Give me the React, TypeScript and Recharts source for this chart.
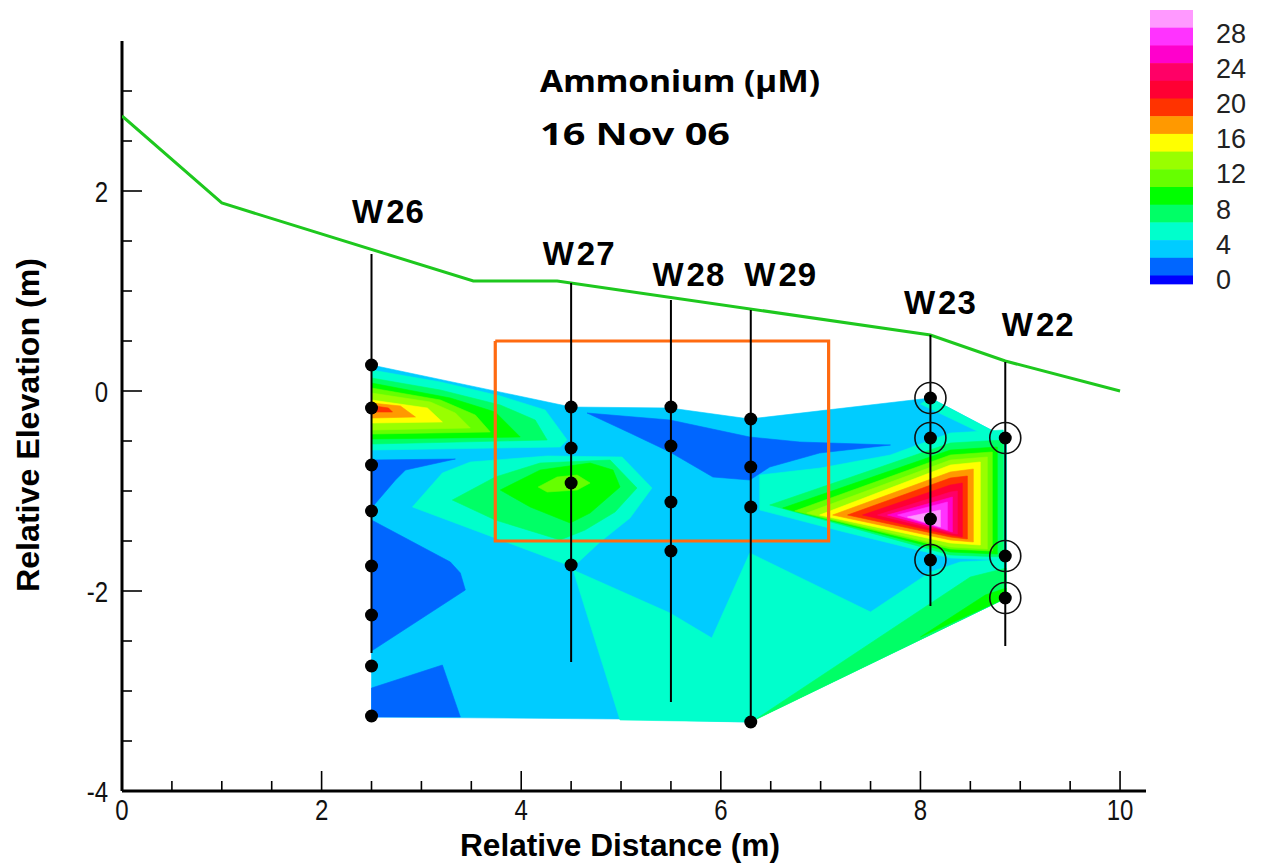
import React from 'react';
import { ScatterChart, Scatter, XAxis, YAxis } from 'recharts';

type Pt = { x: number; y: number };
const toPts = (a: number[][]): Pt[] => a.map(([x, y]) => ({ x, y }));

// ---------- axis ticks ----------
const xTicks = [0, 0.5, 1, 1.5, 2, 2.5, 3, 3.5, 4, 4.5, 5, 5.5, 6, 6.5, 7, 7.5, 8, 8.5, 9, 9.5, 10];
const yTicks = [-4, -3.5, -3, -2.5, -2, -1.5, -1, -0.5, 0, 0.5, 1, 1.5, 2, 2.5, 3];

// ---------- colour scale (legend) ----------
const legendColors = ['#FF99FF', '#FF33FF', '#FF00CC', '#FF0066', '#FF0033', '#FF3300', '#FF9900', '#FFFF00', '#99FF00', '#66FF00', '#00FF00', '#00FF66', '#00FFCC', '#00CCFF', '#0066FF', '#0000FF'];
const legendLabels = ['28', '24', '20', '16', '12', '8', '4', '0'];

// ---------- ground surface ----------
const surfaceX = [0, 1.0, 3.52, 4.36, 8.1, 8.85, 10];
const surfaceY = [2.75, 1.88, 1.1, 1.1, 0.56, 0.3, 0.0];

// ---------- wells ----------
const wellNames = ['W26', 'W27', 'W28', 'W29', 'W23', 'W22'];
const wellX = [2.5, 4.5, 5.5, 6.3, 8.1, 8.85];
const wellTop = [1.37, 1.08, 0.91, 0.81, 0.56, 0.29];
const wellBottom = [-2.62, -2.71, -3.11, -3.29, -2.15, -2.55];
const wellLabelX = [2.67, 4.58, 5.68, 6.6, 8.2, 9.18];
const wellLabelY = [1.8, 1.38, 1.17, 1.17, 0.89, 0.67];
const sampleDepths = [
  [0.26, -0.17, -0.74, -1.2, -1.75, -2.24, -2.75, -3.25],
  [-0.16, -0.57, -0.92, -1.74],
  [-0.16, -0.55, -1.11, -1.6],
  [-0.28, -0.76, -1.16, -3.31],
  [-0.07, -0.47, -1.28, -1.69],
  [-0.47, -1.65, -2.07],
];
const circledX = [8.1, 8.1, 8.1, 8.85, 8.85, 8.85];
const circledY = [-0.07, -0.47, -1.69, -0.47, -1.65, -2.07];

// ---------- study box ----------
const boxX = [3.74, 7.08, 7.08, 3.74, 3.74];
const boxY = [0.5, 0.5, -1.5, -1.5, 0.5];

// ---------- contour polygons (x, y) ----------
const outline = [[2.5, 0.26], [4.5, -0.16], [5.49, -0.17], [6.29, -0.28], [8.1, -0.07], [8.86, -0.47], [8.86, -2.07], [6.29, -3.31], [4.99, -3.28], [2.5, -3.26]];
const blueA = [[2.5, -0.69], [3.34, -0.68], [2.84, -0.79], [2.74, -0.89], [2.5, -1.17]];
const blueB = [[2.5, -1.29], [3.29, -1.71], [3.39, -1.82], [3.44, -1.99], [2.5, -2.6]];
const blueC = [[2.5, -2.97], [3.21, -2.74], [3.39, -3.26], [2.5, -3.26]];
const blueD = [[4.66, -0.22], [5.49, -0.29], [6.29, -0.46], [6.79, -0.51], [7.7, -0.54], [6.99, -0.62], [6.49, -0.76], [6.29, -0.89], [5.92, -0.86], [5.49, -0.61], [5.09, -0.42]];

const aquaLow = [[4.52, -1.79], [4.99, -3.29], [6.29, -3.31], [8.86, -2.07], [8.86, -0.47], [8.1, -0.07], [8.0, -0.13], [8.65, -0.44], [8.8, -0.79], [8.8, -1.69], [8.4, -1.71], [8.1, -1.81], [7.5, -2.21], [6.29, -1.62], [5.91, -2.47], [5.49, -2.22]];
const aquaMid = [[2.91, -1.16], [3.21, -0.82], [3.49, -0.71], [4.26, -0.65], [5.01, -0.66], [5.31, -0.97], [5.09, -1.27], [4.79, -1.51], [4.52, -1.76]];
const aquaLeft = [[2.5, 0.21], [3.19, 0.09], [3.79, -0.05], [4.24, -0.19], [4.46, -0.49], [4.39, -0.56], [2.5, -0.59]];
const aquaRight = [[6.39, -0.84], [7.0, -0.77], [7.7, -0.64], [8.3, -0.42], [8.83, -0.39], [8.83, -1.69], [8.3, -1.67], [7.2, -1.4], [6.39, -1.19]];

const springLeft = [[2.5, 0.13], [3.19, 0.01], [3.79, -0.14], [4.14, -0.29], [4.26, -0.49], [2.5, -0.53]];
const springMid = [[3.31, -1.09], [3.74, -0.86], [4.19, -0.72], [4.89, -0.69], [5.16, -0.97], [4.94, -1.21], [4.64, -1.39], [4.39, -1.49], [3.74, -1.29]];
const springRight = [[6.49, -1.14], [8.3, -0.52], [8.83, -0.49], [8.83, -1.66], [8.3, -1.64]];
const springLow = [[6.34, -3.29], [8.86, -2.07], [8.86, -1.77], [8.5, -1.86], [6.52, -3.17]];

const greenLeft = [[2.5, 0.08], [3.29, -0.07], [3.74, -0.21], [3.99, -0.46], [2.5, -0.48]];
const greenMid = [[3.79, -0.99], [4.19, -0.79], [4.69, -0.72], [4.92, -0.79], [4.99, -0.96], [4.69, -1.22], [4.49, -1.32], [4.09, -1.16]];
const greenRight = [[6.62, -1.17], [8.3, -0.59], [8.77, -0.56], [8.77, -1.63], [8.3, -1.61]];
const greenLow = [[8.0, -2.46], [8.65, -2.04], [8.86, -1.97], [8.86, -2.07]];

const limeLeft = [[2.5, 0.03], [3.19, -0.09], [3.54, -0.24], [3.69, -0.41], [2.5, -0.43]];
const limeMid = [[4.17, -0.96], [4.36, -0.86], [4.56, -0.84], [4.69, -0.92], [4.56, -0.99], [4.26, -1.01]];
const limeRight = [[6.74, -1.2], [8.3, -0.64], [8.72, -0.61], [8.72, -1.6], [8.3, -1.58]];

const chartLeft = [[2.5, -0.02], [3.09, -0.11], [3.34, -0.22], [3.49, -0.37], [2.5, -0.39]];
const chartRight = [[6.86, -1.22], [8.3, -0.69], [8.67, -0.66], [8.67, -1.58], [8.3, -1.56]];

const yellowLeft = [[2.5, -0.09], [3.06, -0.17], [3.21, -0.31], [2.5, -0.32]];
const yellowRight = [[6.99, -1.24], [8.3, -0.74], [8.6, -0.71], [8.6, -1.54], [8.3, -1.52]];

const orangeLeft = [[2.5, -0.12], [2.79, -0.15], [2.94, -0.26], [2.5, -0.27]];
const orangeRight = [[7.12, -1.24], [8.3, -0.81], [8.53, -0.78], [8.53, -1.51], [8.3, -1.49]];

const vermLeft = [[2.53, -0.15], [2.67, -0.17], [2.71, -0.21], [2.53, -0.21]];
const vermRight = [[7.27, -1.24], [8.3, -0.87], [8.47, -0.85], [8.47, -1.48], [8.3, -1.46]];

const redRight = [[7.42, -1.24], [8.3, -0.94], [8.42, -0.92], [8.42, -1.46], [8.3, -1.44]];
const crimsonRight = [[7.57, -1.24], [8.3, -1.01], [8.37, -1.0], [8.37, -1.43], [8.3, -1.42]];
const pinkRight = [[7.67, -1.24], [8.32, -1.06], [8.32, -1.41]];
const magentaRight = [[7.77, -1.24], [8.27, -1.11], [8.27, -1.39]];
const lightPinkRight = [[7.87, -1.26], [8.2, -1.19], [8.2, -1.36]];

const fills: [number[][], string][] = [
  [outline, '#00CCFF'],
  [blueA, '#0066FF'], [blueB, '#0066FF'], [blueC, '#0066FF'], [blueD, '#0066FF'],
  [aquaLow, '#00FFCC'], [aquaMid, '#00FFCC'], [aquaLeft, '#00FFCC'], [aquaRight, '#00FFCC'],
  [springLeft, '#00FF66'], [springMid, '#00FF66'], [springRight, '#00FF66'], [springLow, '#00FF66'],
  [greenLeft, '#00FF00'], [greenMid, '#00FF00'], [greenRight, '#00FF00'], [greenLow, '#00FF00'],
  [limeLeft, '#66FF00'], [limeMid, '#66FF00'], [limeRight, '#66FF00'],
  [chartLeft, '#99FF00'], [chartRight, '#99FF00'],
  [yellowLeft, '#FFFF00'], [yellowRight, '#FFFF00'],
  [orangeLeft, '#FF9900'], [orangeRight, '#FF9900'],
  [vermLeft, '#FF3300'], [vermRight, '#FF3300'],
  [redRight, '#FF0033'], [crimsonRight, '#FF0066'], [pinkRight, '#FF00CC'], [magentaRight, '#FF33FF'], [lightPinkRight, '#FF99FF'],
];

const FONT = '"Liberation Sans", Arial, sans-serif';
const hide = () => <g />;

const polyLine = (color: string) => (props: any) => (
  <polygon
    points={(props.points || []).map((p: any) => `${p.x},${p.y}`).join(' ')}
    fill={color}
    stroke={color}
    strokeWidth={0.6}
    strokeLinejoin="round"
  />
);

const XTick = (props: any) => {
  const { x, y, payload } = props;
  const v = payload.value as number;
  const major = Math.abs(v % 2) < 1e-9;
  return (
    <g>
      <line x1={x} x2={x} y1={y} y2={y - (major ? 20 : 10)} stroke="#000" strokeWidth={1.6} />
      {major && (
        <text transform={`translate(${x},${y + 29}) scale(0.8,1)`} textAnchor="middle" fontSize={30} fontFamily={FONT} fill="#111">
          {String(v)}
        </text>
      )}
    </g>
  );
};

const YTick = (props: any) => {
  const { x, y, payload } = props;
  const v = payload.value as number;
  const major = Math.abs(v % 2) < 1e-9;
  return (
    <g>
      <line x1={x} x2={x + (major ? 20 : 10)} y1={y} y2={y} stroke="#000" strokeWidth={1.6} />
      {major && (
        <text transform={`translate(${x - 14},${y + 11}) scale(0.8,1)`} textAnchor="end" fontSize={30} fontFamily={FONT} fill="#111">
          {String(v)}
        </text>
      )}
    </g>
  );
};

const dotShape = (props: any) => <circle cx={props.cx} cy={props.cy} r={6.5} fill="#000" />;
const ringShape = (props: any) => (
  <g>
    <circle cx={props.cx} cy={props.cy} r={15.5} fill="none" stroke="#111" strokeWidth={1.6} />
  </g>
);
const labelShape = (props: any) => (
  <text
    x={props.cx}
    y={props.cy + 12}
    textAnchor="middle"
    fontSize={33}
    fontWeight="bold"
    fontFamily={FONT}
    letterSpacing={1}
    fill="#000"
  >
    <tspan>{String(props.payload.label).slice(0, 1)}</tspan>
    <tspan dx={2}>{String(props.payload.label).slice(1)}</tspan>
  </text>
);

export default function App() {
  const surface = surfaceX.map((x, i) => ({ x, y: surfaceY[i] }));
  const box = boxX.map((x, i) => ({ x, y: boxY[i] }));
  const dots: Pt[] = [];
  sampleDepths.forEach((arr, i) => arr.forEach((y) => dots.push({ x: wellX[i], y })));
  const rings = circledX.map((x, i) => ({ x, y: circledY[i] }));
  const labels = wellNames.map((label, i) => ({ x: wellLabelX[i], y: wellLabelY[i], label }));

  const legendTop = 10;
  const band = 17.7;

  return (
    <div style={{ position: 'absolute', left: 0, top: 0, width: 1266, height: 865, background: '#fff' }}>
      <ScatterChart width={1266} height={865} margin={{ top: 41, right: 120, bottom: 44, left: 62 }}>
        <XAxis
          type="number"
          dataKey="x"
          domain={[0, 10.26]}
          ticks={xTicks}
          interval={0}
          allowDataOverflow
          tickSize={0}
          tickMargin={0}
          tickLine={false}
          tick={<XTick />}
          axisLine={{ stroke: '#000', strokeWidth: 3 }}
          height={30}
        />
        <YAxis
          type="number"
          dataKey="y"
          domain={[-4, 3.5]}
          ticks={yTicks}
          interval={0}
          allowDataOverflow
          tickSize={0}
          tickMargin={0}
          tickLine={false}
          tick={<YTick />}
          axisLine={{ stroke: '#000', strokeWidth: 3 }}
          width={60}
        />
        {fills.map(([poly, color], i) => (
          <Scatter
            key={`poly-${i}`}
            data={toPts(poly)}
            shape={hide}
            line={polyLine(color)}
            lineType="joint"
            isAnimationActive={false}
          />
        ))}
        <Scatter
          data={box}
          shape={hide}
          line={{ stroke: '#FF6A10', strokeWidth: 3.2 }}
          lineType="joint"
          isAnimationActive={false}
        />
        <Scatter
          data={surface}
          shape={hide}
          line={{ stroke: '#1EC81E', strokeWidth: 3 }}
          lineType="joint"
          isAnimationActive={false}
        />
        {wellX.map((x, i) => (
          <Scatter
            key={`well-${i}`}
            data={[{ x, y: wellTop[i] }, { x, y: wellBottom[i] }]}
            shape={hide}
            line={{ stroke: '#000', strokeWidth: 2 }}
            lineType="joint"
            isAnimationActive={false}
          />
        ))}
        <Scatter data={rings} shape={ringShape} isAnimationActive={false} />
        <Scatter data={dots} shape={dotShape} isAnimationActive={false} />
        <Scatter data={labels} shape={labelShape} isAnimationActive={false} />
      </ScatterChart>

      <svg width={1266} height={865} style={{ position: 'absolute', left: 0, top: 0, pointerEvents: 'none' }}>
        <text x={540} y={92} fontSize={30} fontWeight="bold" fontFamily='"Comic Sans MS", "Noto Sans", sans-serif' textLength={280} lengthAdjust="spacingAndGlyphs" fill="#000">
          Ammonium (µM)
        </text>
        <text x={540} y={145} fontSize={30} fontWeight="bold" fontFamily='"Comic Sans MS", "Noto Sans", sans-serif' textLength={190} lengthAdjust="spacingAndGlyphs" fill="#000">
          16 Nov 06
        </text>
        <text x={620} y={856} fontSize={32} fontWeight="bold" fontFamily={FONT} textAnchor="middle" textLength={320} lengthAdjust="spacingAndGlyphs" fill="#000">
          Relative Distance (m)
        </text>
        <text transform="translate(39,425) rotate(-90)" fontSize={32} fontWeight="bold" fontFamily={FONT} textAnchor="middle" textLength={334} lengthAdjust="spacingAndGlyphs" fill="#000">
          Relative Elevation (m)
        </text>
        {legendColors.map((c, i) => (
          <rect key={c} x={1150} y={legendTop + i * band} width={43} height={i === legendColors.length - 1 ? band / 2 : band + 0.5} fill={c} />
        ))}
        {legendLabels.map((t, i) => (
          <text key={t} x={1216} y={43 + i * 35.1} fontSize={27} fontFamily={FONT} fill="#222">
            {t}
          </text>
        ))}
      </svg>
    </div>
  );
}
